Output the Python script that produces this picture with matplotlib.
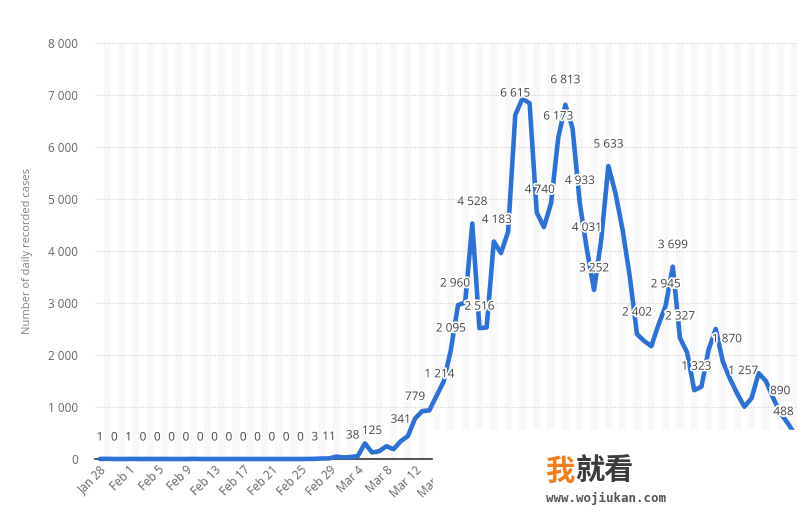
import pandas as pd
import matplotlib.pyplot as plt
import matplotlib.patheffects as pe
from matplotlib.patches import Rectangle

# daily recorded cases, one value per day from Jan 28
cases = [1, 3, 0, 0, 1, 1, 0, 1, 0, 1,
         0, 0, 0, 2, 0, 0, 0, 0, 0, 0,
         0, 0, 0, 0, 0, 0, 0, 0, 0, 1,
         3, 10, 11, 45, 30, 38, 55, 300, 125, 150,
         245, 190, 341, 440, 779, 920, 935, 1214, 1490, 2095,
         2960, 3010, 4528, 2516, 2530, 4183, 3960, 4370, 6615, 6933,
         6840, 4740, 4460, 4920, 6173, 6813, 6360, 4933, 4031, 3252,
         4210, 5633, 5110, 4400, 3500, 2402, 2270, 2170, 2580, 2945,
         3699, 2327, 2050, 1323, 1390, 2100, 2500, 1870, 1540, 1257,
         1005, 1170, 1650, 1500, 1180, 890, 700, 488]
start_date = '2020-01-28'

# days that carry a value label
label_idx = list(range(0, 30, 2)) + [30, 32, 35, 38, 42, 44, 47, 49, 50, 52, 53, 55,
                                     58, 61, 64, 65, 67, 68, 69, 71, 75, 79, 80, 81,
                                     83, 87, 89, 95, 97]
y_ticks = list(range(0, 8001, 1000))

plt.rcParams['font.family'] = ['Open Sans', 'DejaVu Sans']


def fmt(v):
    return f'{v:,}'.replace(',', ' ')


dates = pd.date_range(start_date, periods=len(cases), freq='D')
x = list(range(len(cases)))

fig = plt.figure(figsize=(8.1, 5.24), dpi=100)
ax = fig.add_axes([95 / 810, 65 / 524, 702 / 810, 416 / 524])

# alternating column shading
for i in x[1::2]:
    ax.axvspan(i - 0.5, i + 0.5, color='#f8f8f8', lw=0, zorder=0)

for v in y_ticks[1:]:
    ax.axhline(v, color='#cccccc', lw=0.8, ls=(0, (1, 1.5)), zorder=1)

ax.plot(x, cases, color='#2d72d2', lw=3.3, solid_joinstyle='round',
        solid_capstyle='round', clip_on=False, zorder=3)

# value labels (small nudges where the original moved them)
shift = {35: (2, 22), 47: (3, 22), 50: (-3, 22), 55: (3, 22), 61: (3, 23),
         65: (0, 25), 83: (2, 24), 87: (4, 23), 89: (6, 23), 97: (-11, 22)}
for i in label_idx:
    dx, dy = shift.get(i, (0, 22))
    ax.annotate(fmt(cases[i]), (i, cases[i]), xytext=(dx, dy),
                textcoords='offset pixels', ha='center', va='center',
                fontsize=8.5, color='#444444', zorder=4, annotation_clip=False,
                path_effects=[pe.withStroke(linewidth=2.5, foreground='white')])

ax.set_xlim(-0.7, 97.35)
ax.set_ylim(0, 8000)
for s in ['top', 'right', 'left']:
    ax.spines[s].set_visible(False)
ax.spines['bottom'].set_color('#333333')
ax.spines['bottom'].set_linewidth(1.2)
ax.spines['bottom'].set_zorder(2)

ax.set_xticks(x[::4])
ax.set_xticklabels([f'{d:%b} {d.day}' for d in dates[::4]])
ax.tick_params(axis='x', length=0, pad=3, labelsize=8.5, labelcolor='#666666')
for t in ax.get_xticklabels():
    t.set_rotation(45)
    t.set_ha('right')
    t.set_rotation_mode('anchor')

ax.set_yticks(y_ticks)
ax.set_yticklabels([fmt(v) for v in y_ticks])
ax.tick_params(axis='y', length=0, pad=12, labelsize=8.5, labelcolor='#666666')
ax.set_ylabel('Number of daily recorded cases', fontsize=8, color='#808080')
ax.yaxis.set_label_coords(-(95 - 33) / 702, 0.5)

# white area with the site watermark
fig.add_artist(Rectangle((433 / 810, 0), 1, 94 / 524, transform=fig.transFigure,
                         color='white', zorder=5))
fig.text(545 / 810, 1 - 471 / 524, '我', fontsize=21, color='#f0801e', weight='bold',
         family=['Noto Sans CJK SC'], ha='left', va='center', zorder=6)
fig.text(575 / 810, 1 - 471 / 524, '就看', fontsize=21, color='#3b3b3b', weight='bold',
         family=['Noto Sans CJK SC'], ha='left', va='center', zorder=6)
fig.text(546 / 810, 1 - 498 / 524, 'www.wojiukan.com', fontsize=9, color='#555555',
         weight='bold', family='DejaVu Sans Mono', ha='left', va='center', zorder=6)

fig.savefig('out.png', dpi=100)
